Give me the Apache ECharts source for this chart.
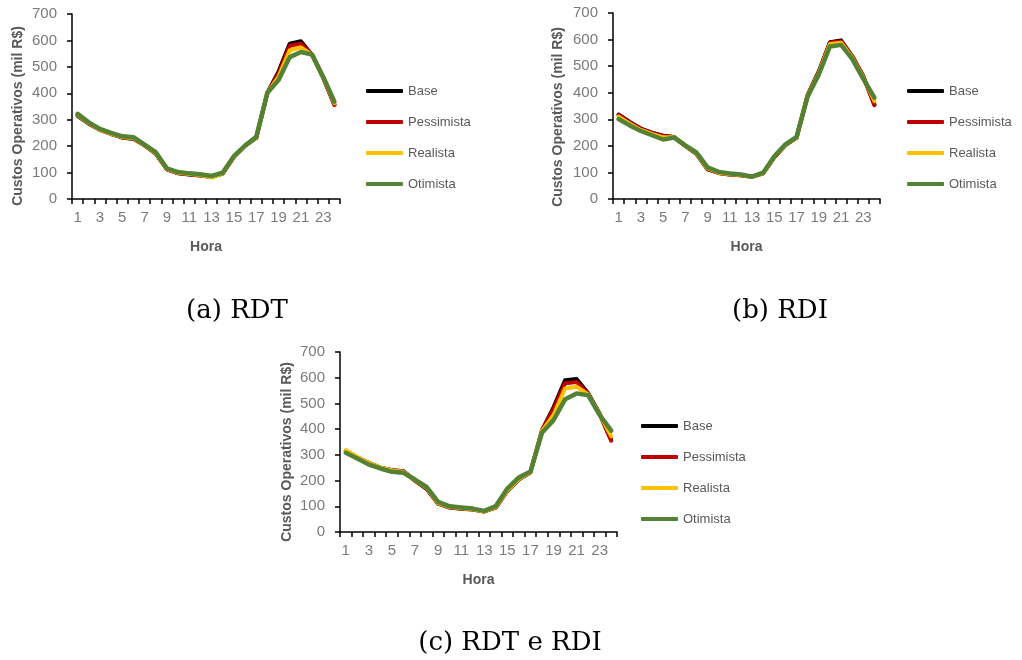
<!DOCTYPE html>
<html>
<head>
<meta charset="utf-8">
<script src="https://cdn.jsdelivr.net/npm/echarts@6/dist/echarts.min.js"></script>
<style>
html,body{margin:0;padding:0;background:#fff;}
#c{width:1022px;height:660px;}
</style>
</head>
<body>
<div id="c"></div>
<script>
const hours = ['1','2','3','4','5','6','7','8','9','10','11','12','13','14','15','16','17','18','19','20','21','22','23','24'];
const seriesNames = ['Base','Pessimista','Realista','Otimista'];
const yTicks = [0, 100, 200, 300, 400, 500, 600, 700];

// (a) RDT
const rdtBase = [315, 285, 262, 246, 232, 228, 203, 172, 112, 97, 93, 89, 83, 96, 160, 202, 231, 402, 482, 588, 597, 545, 458, 357];
const rdtPess = [316, 286, 262, 247, 233, 229, 203, 173, 112, 98, 94, 90, 84, 97, 160, 202, 232, 402, 475, 580, 588, 546, 459, 356];
const rdtReal = [318, 287, 262, 247, 234, 231, 204, 174, 113, 99, 95, 91, 81, 97, 161, 202, 232, 402, 463, 563, 574, 546, 460, 362];
const rdtOtim = [322, 290, 265, 250, 237, 234, 206, 177, 116, 102, 97, 94, 87, 100, 162, 202, 235, 402, 450, 537, 556, 547, 462, 368];

// (b) RDI
const rdiBase = [318, 290, 265, 250, 238, 233, 200, 170, 112, 98, 92, 89, 84, 97, 158, 203, 231, 392, 480, 590, 597, 538, 462, 356];
const rdiPess = [316, 288, 264, 249, 237, 232, 200, 171, 113, 98, 92, 89, 84, 97, 158, 203, 231, 391, 478, 588, 594, 536, 460, 353];
const rdiReal = [310, 283, 260, 245, 232, 232, 201, 172, 115, 99, 93, 90, 83, 97, 159, 204, 232, 390, 474, 583, 588, 533, 457, 368];
const rdiOtim = [301, 277, 256, 240, 224, 231, 202, 175, 119, 102, 96, 92, 84, 99, 161, 206, 234, 386, 469, 574, 580, 527, 452, 381];

// (c) RDT e RDI
const bothBase = [315, 290, 268, 250, 240, 236, 200, 168, 110, 95, 90, 87, 80, 95, 160, 205, 232, 395, 485, 590, 595, 540, 460, 358];
const bothPess = [316, 291, 268, 250, 240, 236, 200, 170, 111, 96, 91, 88, 80, 96, 161, 206, 232, 394, 478, 578, 583, 538, 458, 355];
const bothReal = [318, 292, 268, 251, 239, 234, 202, 172, 112, 97, 92, 88, 80, 97, 162, 207, 233, 392, 455, 558, 565, 535, 458, 372];
const bothOtim = [308, 286, 262, 247, 234, 230, 204, 175, 117, 100, 95, 91, 82, 101, 169, 212, 235, 386, 435, 516, 539, 532, 455, 394];

const captions = ['(a) RDT', '(b) RDI', '(c) RDT e RDI'];
const yTitle = 'Custos Operativos (mil R$)';
const xTitle = 'Hora';

const colors = ['#000000', '#C00000', '#FFC000', '#548235'];
const panels = [
  {grid:{left:72, top:14, width:268, height:185}, data:[rdtBase, rdtPess, rdtReal, rdtOtim], legend:{left:361, top:78}, yname:{x:18, y:116}, cap:{x:237, y:311}},
  {grid:{left:613, top:13, width:267, height:186}, data:[rdiBase, rdiPess, rdiReal, rdiOtim], legend:{left:902, top:78}, yname:{x:558, y:117}, cap:{x:780, y:311}},
  {grid:{left:340, top:352, width:277, height:180}, data:[bothBase, bothPess, bothReal, bothOtim], legend:{left:636, top:413}, yname:{x:287, y:452}, cap:{x:510, y:643}}
];

const grids = [], xAxes = [], yAxes = [], series = [], legends = [], graphics = [];
const labelColor = '#7a7a7a';
const titleColor = '#595959';
panels.forEach((p, i) => {
  grids.push(Object.assign({containLabel:false}, p.grid));
  xAxes.push({
    type:'category', gridIndex:i, data:hours, boundaryGap:true,
    axisLine:{lineStyle:{color:'#000', width:1.5}},
    axisTick:{show:true, alignWithLabel:false, interval:0, length:5, lineStyle:{color:'#000', width:1.5}},
    axisLabel:{interval:1, color:labelColor, fontFamily:'Liberation Sans', fontSize:15, margin:11},
    name:xTitle, nameLocation:'middle', nameGap:41,
    nameTextStyle:{color:titleColor, fontFamily:'Liberation Sans', fontWeight:'bold', fontSize:14},
    splitLine:{show:false}
  });
  yAxes.push({
    type:'value', gridIndex:i, min:yTicks[0], max:yTicks[yTicks.length-1], interval:100,
    axisLine:{show:true, lineStyle:{color:'#000', width:1.5}},
    axisTick:{show:true, length:5, lineStyle:{color:'#000', width:1.5}},
    axisLabel:{color:labelColor, fontFamily:'Liberation Sans', fontSize:15, margin:15},
    splitLine:{show:false}
  });
  p.data.forEach((d, k) => {
    series.push({
      name:seriesNames[k], type:'line', xAxisIndex:i, yAxisIndex:i, data:d,
      symbol:'none', smooth:false, animation:false,
      lineStyle:{color:colors[k], width:k === 3 ? 4.5 : 4, cap:'round', join:'round'},
      itemStyle:{color:colors[k]}
    });
  });
  legends.push({
    orient:'vertical', left:p.legend.left, top:p.legend.top,
    data:seriesNames, icon:'roundRect', itemWidth:37, itemHeight:4, itemGap:15,
    selectedMode:false,
    textStyle:{color:titleColor, fontFamily:'Liberation Sans', fontSize:13, lineHeight:16}
  });
  graphics.push({
    type:'text', x:p.yname.x, y:p.yname.y, rotation:Math.PI/2,
    style:{text:yTitle, fill:titleColor, font:'bold 14px "Liberation Sans"', textAlign:'center', textVerticalAlign:'middle'}
  });
  graphics.push({
    type:'text', x:p.cap.x, y:p.cap.y,
    style:{text:captions[i], fill:'#000', font:'26px "DejaVu Serif"', textAlign:'center', textVerticalAlign:'middle'}
  });
});

const chart = echarts.init(document.getElementById('c'), null, {renderer:'canvas'});
chart.setOption({
  backgroundColor:'#fff',
  animation:false,
  grid:grids, xAxis:xAxes, yAxis:yAxes, series:series, legend:legends, graphic:graphics
});
</script>
</body>
</html>
